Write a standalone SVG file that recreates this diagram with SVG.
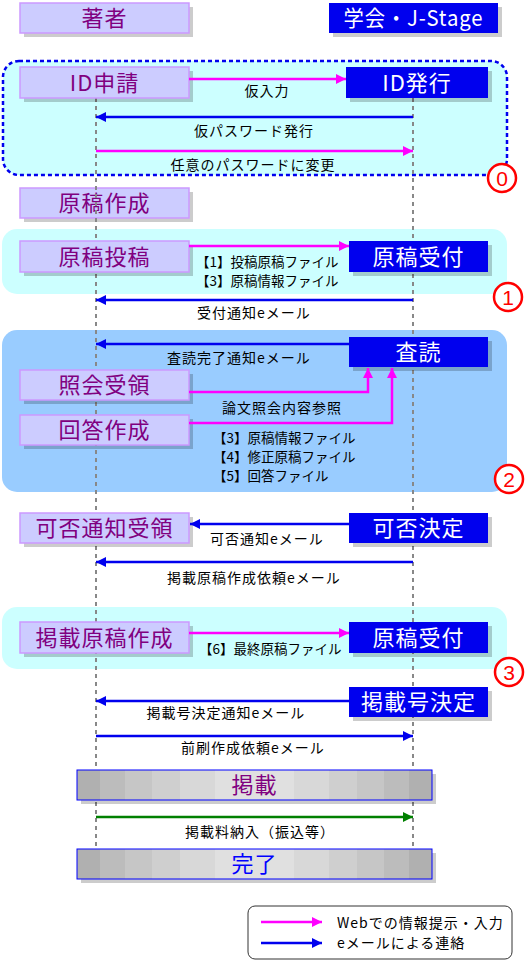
<svg xmlns="http://www.w3.org/2000/svg" width="528" height="960" viewBox="0 0 528 960">
<defs>
<style>
text{font-family:"Noto Sans CJK JP","Noto Sans",sans-serif;}
.sh{fill:#000;opacity:0.2}
.au{fill:#ccccff;stroke:#cc99ff;stroke-width:1.5}
.aut{fill:#800080;font-size:22px;text-anchor:middle;letter-spacing:1px}
.so{fill:#0000ee}
.sot{fill:#fff;font-size:22px;text-anchor:middle;letter-spacing:1px}
.lb{fill:#000;font-size:14px;letter-spacing:1px}
.br{fill:#000;font-size:13.5px;letter-spacing:0px}
.mid{text-anchor:middle}
.life{stroke:#888;stroke-width:2;stroke-dasharray:4,4;fill:none}
.mg{stroke:#ff00ff;stroke-width:2.5;fill:none}
.bl{stroke:#0000ee;stroke-width:2.5;fill:none}
.gr{stroke:#008000;stroke-width:2.5;fill:none}
.num{fill:#fff;stroke:#ff0000;stroke-width:2.5}
.numt{fill:#ff0000;font-size:21px;text-anchor:middle;font-family:"Liberation Sans",sans-serif}
.bar{fill:url(#gg);stroke:#0000ff;stroke-width:1}
</style>
<marker id="am" viewBox="0 0 10 10" refX="10" refY="5" markerWidth="10" markerHeight="10" markerUnits="userSpaceOnUse" orient="auto"><path d="M0,0L10,5L0,10z" fill="#ff00ff"/></marker>
<marker id="ab" viewBox="0 0 10 10" refX="10" refY="5" markerWidth="10" markerHeight="10" markerUnits="userSpaceOnUse" orient="auto"><path d="M0,0L10,5L0,10z" fill="#0000ee"/></marker>
<marker id="ag" viewBox="0 0 10 10" refX="10" refY="5" markerWidth="10" markerHeight="10" markerUnits="userSpaceOnUse" orient="auto"><path d="M0,0L10,5L0,10z" fill="#008000"/></marker>
<linearGradient id="gg" x1="0" x2="1" y1="0" y2="0">
<stop offset="0" stop-color="#b0b0b0"/><stop offset="0.065" stop-color="#b0b0b0"/>
<stop offset="0.065" stop-color="#bcbcbc"/><stop offset="0.135" stop-color="#bcbcbc"/>
<stop offset="0.135" stop-color="#c6c6c6"/><stop offset="0.21" stop-color="#c6c6c6"/>
<stop offset="0.21" stop-color="#cfcfcf"/><stop offset="0.29" stop-color="#cfcfcf"/>
<stop offset="0.29" stop-color="#d8d8d8"/><stop offset="0.39" stop-color="#d8d8d8"/>
<stop offset="0.39" stop-color="#e0e0e0"/><stop offset="0.61" stop-color="#e0e0e0"/>
<stop offset="0.61" stop-color="#d8d8d8"/><stop offset="0.71" stop-color="#d8d8d8"/>
<stop offset="0.71" stop-color="#cfcfcf"/><stop offset="0.79" stop-color="#cfcfcf"/>
<stop offset="0.79" stop-color="#c6c6c6"/><stop offset="0.865" stop-color="#c6c6c6"/>
<stop offset="0.865" stop-color="#bcbcbc"/><stop offset="0.935" stop-color="#bcbcbc"/>
<stop offset="0.935" stop-color="#b0b0b0"/><stop offset="1" stop-color="#b0b0b0"/>
</linearGradient>
</defs>

<g id="regions">
<rect x="3" y="61" width="504" height="114" rx="16" fill="#ccffff" stroke="#0000ee" stroke-width="2.5" stroke-dasharray="4,3"/>
<rect x="2" y="229" width="505" height="65" rx="15" fill="#ccffff"/>
<rect x="2" y="330" width="505" height="162" rx="15" fill="#99ccff"/>
<rect x="2" y="607" width="505" height="62" rx="15" fill="#ccffff"/>
</g>

<g id="n-chosha"><rect class="sh" x="24" y="7" width="169" height="30"/><rect class="au" x="20" y="3" width="169" height="30"/><text class="aut" x="104.5" y="26">著者</text></g>
<g id="n-gakkai"><rect class="sh" x="333" y="7" width="169" height="30"/><rect class="so" x="329" y="3" width="169" height="30"/><text class="sot" x="413.5" y="26" letter-spacing="0" textLength="140" lengthAdjust="spacingAndGlyphs">学会・J-Stage</text></g>

<g id="n-genkosakusei"><rect class="sh" x="24" y="192" width="169" height="30"/><rect class="au" x="20" y="188" width="169" height="30"/><text class="aut" x="104.5" y="211">原稿作成</text></g>

<g id="lifelines">
<line class="life" x1="96" y1="98" x2="96" y2="849"/>
<line class="life" x1="413" y1="98" x2="413" y2="849"/>
</g>

<g id="n-idshinsei"><rect class="sh" x="24" y="71" width="169" height="31"/><rect class="au" x="20" y="67" width="169" height="31"/><text class="aut" x="104.5" y="91">ID申請</text></g>
<g id="n-idhakko"><rect class="sh" x="350" y="71" width="142" height="31"/><rect class="so" x="346" y="67" width="142" height="31"/><text class="sot" x="417" y="91">ID発行</text></g>

<g id="n-genkotoko"><rect class="sh" x="24" y="245" width="169" height="31"/><rect class="au" x="20" y="241" width="169" height="31"/><text class="aut" x="104.5" y="265">原稿投稿</text></g>
<g id="n-uketsuke1"><rect class="sh" x="353" y="245" width="139" height="31"/><rect class="so" x="349" y="241" width="139" height="31"/><text class="sot" x="418.5" y="265">原稿受付</text></g>

<g id="n-sadoku"><rect class="sh" x="353" y="341" width="139" height="30"/><rect class="so" x="349" y="337" width="139" height="30"/><text class="sot" x="418.5" y="360">査読</text></g>
<g id="n-shokai"><rect class="sh" x="24" y="374" width="169" height="30"/><rect class="au" x="20" y="370" width="169" height="30"/><text class="aut" x="104.5" y="393">照会受領</text></g>
<g id="n-kaito"><rect class="sh" x="24" y="419" width="169" height="30"/><rect class="au" x="20" y="415" width="169" height="30"/><text class="aut" x="104.5" y="438">回答作成</text></g>

<g id="n-kahijuryo"><rect class="sh" x="24" y="517" width="169" height="30"/><rect class="au" x="20" y="513" width="169" height="30"/><text class="aut" x="104.5" y="536">可否通知受領</text></g>
<g id="n-kahikettei"><rect class="sh" x="353" y="517" width="139" height="30"/><rect class="so" x="349" y="513" width="139" height="30"/><text class="sot" x="418.5" y="536">可否決定</text></g>

<g id="n-keisaigenko"><rect class="sh" x="24" y="626" width="169" height="31"/><rect class="au" x="20" y="622" width="169" height="31"/><text class="aut" x="104.5" y="646">掲載原稿作成</text></g>
<g id="n-uketsuke2"><rect class="sh" x="353" y="626" width="139" height="31"/><rect class="so" x="349" y="622" width="139" height="31"/><text class="sot" x="418.5" y="646">原稿受付</text></g>

<g id="n-keisaigo"><rect class="sh" x="353" y="691" width="139" height="30"/><rect class="so" x="349" y="687" width="139" height="30"/><text class="sot" x="418.5" y="710">掲載号決定</text></g>

<g id="n-keisai"><rect class="sh" x="81" y="774" width="355" height="30"/><rect class="bar" x="77" y="770" width="355" height="30"/><text class="aut" x="254.5" y="793">掲載</text></g>
<g id="n-kanryo"><rect class="sh" x="81" y="853" width="355" height="30"/><rect class="bar" x="77" y="849" width="355" height="30"/><text class="aut" x="254.5" y="872" style="fill:#0000ff">完了</text></g>

<g id="connectors">
<line class="mg" x1="189" y1="79" x2="346" y2="79" marker-end="url(#am)"/>
<line class="bl" x1="413" y1="117" x2="96" y2="117" marker-end="url(#ab)"/>
<line class="mg" x1="96" y1="151" x2="413" y2="151" marker-end="url(#am)"/>
<line class="mg" x1="189" y1="246" x2="349" y2="246" marker-end="url(#am)"/>
<line class="bl" x1="413" y1="300" x2="96" y2="300" marker-end="url(#ab)"/>
<line class="bl" x1="349" y1="344" x2="96" y2="344" marker-end="url(#ab)"/>
<polyline class="mg" points="189,392 368,392 368,368" marker-end="url(#am)"/>
<polyline class="mg" points="189,423 392,423 392,368" marker-end="url(#am)"/>
<line class="bl" x1="349" y1="524" x2="190" y2="524" marker-end="url(#ab)"/>
<line class="bl" x1="413" y1="562" x2="96" y2="562" marker-end="url(#ab)"/>
<line class="mg" x1="189" y1="633" x2="349" y2="633" marker-end="url(#am)"/>
<line class="bl" x1="349" y1="701" x2="96" y2="701" marker-end="url(#ab)"/>
<line class="bl" x1="96" y1="736" x2="413" y2="736" marker-end="url(#ab)"/>
<line class="gr" x1="96" y1="817" x2="413" y2="817" marker-end="url(#ag)"/>
</g>

<g id="labels">
<text class="lb mid" x="267" y="96">仮入力</text>
<text class="lb mid" x="254" y="136">仮パスワード発行</text>
<text class="lb mid" x="253" y="170">任意のパスワードに変更</text>
<text class="br" x="196" y="267">【1】投稿原稿ファイル</text>
<text class="br" x="196" y="286">【3】原稿情報ファイル</text>
<text class="lb mid" x="254" y="318">受付通知eメール</text>
<text class="lb mid" x="239" y="363">査読完了通知eメール</text>
<text class="lb mid" x="282" y="413">論文照会内容参照</text>
<text class="br" x="213" y="443">【3】原稿情報ファイル</text>
<text class="br" x="213" y="462">【4】修正原稿ファイル</text>
<text class="br" x="213" y="481">【5】回答ファイル</text>
<text class="lb mid" x="267" y="544">可否通知eメール</text>
<text class="lb mid" x="254" y="583">掲載原稿作成依頼eメール</text>
<text class="br" x="199" y="654">【6】最終原稿ファイル</text>
<text class="lb mid" x="226" y="718">掲載号決定通知eメール</text>
<text class="lb mid" x="253" y="753">前刷作成依頼eメール</text>
<text class="lb mid" x="260" y="837">掲載料納入（振込等）</text>
</g>

<g id="numbers">
<circle class="num" cx="502" cy="178" r="14"/><text class="numt" x="502" y="186">0</text>
<circle class="num" cx="508" cy="297" r="14"/><text class="numt" x="508" y="305">1</text>
<circle class="num" cx="509" cy="479" r="14"/><text class="numt" x="509" y="487">2</text>
<circle class="num" cx="509" cy="672" r="14"/><text class="numt" x="509" y="680">3</text>
</g>

<g id="legend">
<rect x="248" y="906" width="264" height="53" rx="7" fill="#fff" stroke="#333" stroke-width="1"/>
<line class="mg" x1="261" y1="922" x2="322" y2="922" marker-end="url(#am)"/>
<line class="bl" x1="261" y1="943" x2="322" y2="943" marker-end="url(#ab)"/>
<text class="lb" x="337" y="928" letter-spacing="0.5">Webでの情報提示・入力</text>
<text class="lb" x="337" y="948" letter-spacing="0.5">eメールによる連絡</text>
</g>
</svg>
